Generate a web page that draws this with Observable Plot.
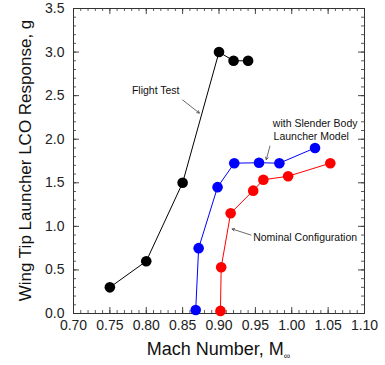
<!DOCTYPE html>
<html><head><meta charset="utf-8">
<script src="https://cdn.jsdelivr.net/npm/d3@7"></script>
<script src="https://cdn.jsdelivr.net/npm/@observablehq/plot@0.6"></script>
<style>
html,body{margin:0;padding:0;background:#fff;}
</style>
</head><body>
<div id="chart"></div>
<script>
// Data
const flightMach = [0.75, 0.80, 0.85, 0.90, 0.92, 0.94];
const flightG    = [0.30, 0.60, 1.50, 3.00, 2.90, 2.90];
const slenderMach = [0.868, 0.872, 0.898, 0.921, 0.955, 0.983, 1.032];
const slenderG    = [0.04, 0.75, 1.45, 1.725, 1.73, 1.725, 1.90];
const nominalMach = [0.902, 0.903, 0.916, 0.947, 0.961, 0.995, 1.053];
const nominalG    = [0.03, 0.53, 1.15, 1.41, 1.535, 1.575, 1.725];

const xTickLabels = [0.70, 0.75, 0.80, 0.85, 0.90, 0.95, 1.00, 1.05, 1.10];
const yTickLabels = [0.0, 0.5, 1.0, 1.5, 2.0, 2.5, 3.0, 3.5];
const xMinor = d3.range(70, 111).map(d => d / 100);
const yMinor = d3.range(0, 36).map(d => d / 10);

// Annotations
const annoCentered = [
  {x: 0.813, y: 2.56, text: "Flight Test"}
];
const annoLeft = [
  {x: 0.974, y: 2.175, text: "with Slender Body"},
  {x: 0.975, y: 2.035, text: "Launcher Model"},
  {x: 0.947, y: 0.87, text: "Nominal Configuration"}
];
const annoArrows = [
  {x1: 0.850, y1: 2.45, x2: 0.873, y2: 2.30},
  {x1: 0.970, y1: 1.92, x2: 0.965, y2: 1.765},
  {x1: 0.944, y1: 0.90, x2: 0.918, y2: 0.97}
];

const toRows = (xs, ys) => xs.map((x, i) => ({x, y: ys[i]}));
const flight = toRows(flightMach, flightG);
const slender = toRows(slenderMach, slenderG);
const nominal = toRows(nominalMach, nominalG);

const W = 385, H = 365, mL = 73, mR = 21, mT = 8, mB = 52;
const innerW = W - mL - mR, innerH = H - mT - mB;
const tickCol = "#333";
const font = "'Liberation Sans', Arial, sans-serif";

const plot = Plot.plot({
  width: W, height: H,
  marginLeft: mL, marginRight: mR, marginTop: mT, marginBottom: mB,
  style: {fontFamily: font, fontSize: "14px", color: "#222", background: "#fff"},
  x: {domain: [0.7, 1.1]},
  y: {domain: [0, 3.5]},
  marks: [
    Plot.frame({stroke: "#333", strokeWidth: 1}),
    // minor ticks
    Plot.tickX(xMinor, {x: d => d, insetTop: innerH - 3, stroke: tickCol, strokeWidth: 0.8}),
    Plot.tickX(xMinor, {x: d => d, insetBottom: innerH - 3, stroke: tickCol, strokeWidth: 0.8}),
    Plot.tickY(yMinor, {y: d => d, insetRight: innerW - 3, stroke: tickCol, strokeWidth: 0.8}),
    Plot.tickY(yMinor, {y: d => d, insetLeft: innerW - 3, stroke: tickCol, strokeWidth: 0.8}),
    // major ticks
    Plot.tickX(xTickLabels, {x: d => d, insetTop: innerH - 6, stroke: tickCol, strokeWidth: 0.9}),
    Plot.tickX(xTickLabels, {x: d => d, insetBottom: innerH - 6, stroke: tickCol, strokeWidth: 0.9}),
    Plot.tickY(yTickLabels, {y: d => d, insetRight: innerW - 6, stroke: tickCol, strokeWidth: 0.9}),
    Plot.tickY(yTickLabels, {y: d => d, insetLeft: innerW - 6, stroke: tickCol, strokeWidth: 0.9}),
    Plot.axisX({ticks: xTickLabels, tickSize: 0, tickPadding: 7, tickFormat: d => d.toFixed(2), label: null, fontSize: 14}),
    Plot.axisY({ticks: yTickLabels, tickSize: 0, tickPadding: 9, tickFormat: d => d.toFixed(1), label: null, fontSize: 14}),
    // series
    Plot.line(flight, {x: "x", y: "y", stroke: "#000", strokeWidth: 1}),
    Plot.line(slender, {x: "x", y: "y", stroke: "#0000ff", strokeWidth: 1}),
    Plot.line(nominal, {x: "x", y: "y", stroke: "#ff0000", strokeWidth: 1}),
    Plot.dot(flight, {x: "x", y: "y", r: 5.3, fill: "#000"}),
    Plot.dot(slender, {x: "x", y: "y", r: 5.3, fill: "#0000ff"}),
    Plot.dot(nominal, {x: "x", y: "y", r: 5.3, fill: "#ff0000"}),
    // annotations
    Plot.arrow(annoArrows, {x1: "x1", y1: "y1", x2: "x2", y2: "y2", stroke: "#444", strokeWidth: 0.8, headLength: 5}),
    Plot.text(annoCentered, {x: "x", y: "y", text: "text", textAnchor: "middle", fontSize: 10.5, fill: "#111"}),
    Plot.text(annoLeft, {x: "x", y: "y", text: "text", textAnchor: "start", fontSize: 10.5, fill: "#111"})
  ]
});

const svg = d3.select(plot);
// y-axis title
svg.append("text")
  .attr("transform", `translate(25,${mT + innerH / 2}) rotate(-90)`)
  .attr("text-anchor", "middle")
  .attr("dominant-baseline", "central")
  .attr("font-size", 17)
  .attr("fill", "#111")
  .text("Wing Tip Launcher LCO Response, g");
// x-axis title with subscript infinity
const xt = svg.append("text")
  .attr("x", mL + innerW / 2)
  .attr("y", 355)
  .attr("text-anchor", "middle")
  .attr("font-size", 18)
  .attr("fill", "#111");
xt.append("tspan").text("Mach Number, M");
xt.append("tspan").attr("font-size", 9).attr("dy", 4).text("∞");

document.getElementById("chart").appendChild(plot);
</script>
</body></html>
